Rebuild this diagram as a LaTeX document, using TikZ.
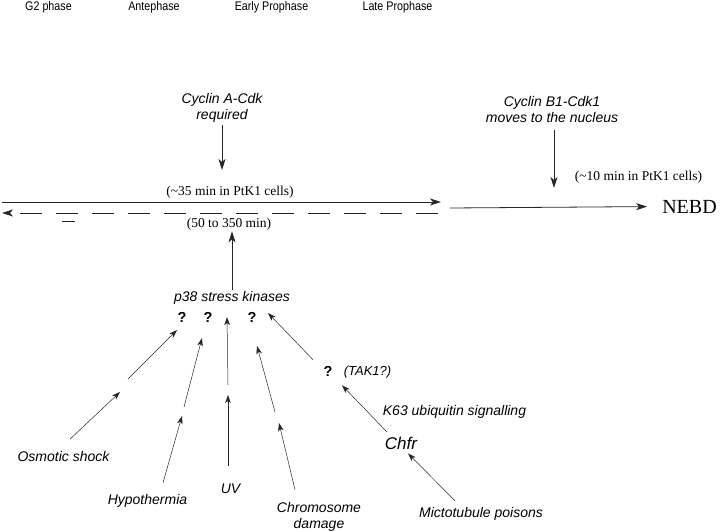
\documentclass[tikz,border=0pt]{standalone}
\usepackage{fontspec}
\setmainfont{Liberation Serif}
\setsansfont{Liberation Sans}
\newfontfamily\narrowsans[FakeStretch=0.86]{Liberation Sans}
\usepackage{tikz}
\usetikzlibrary{arrows, arrows.meta, positioning}
\tikzstyle{phase} = [font=\narrowsans\fontsize{12.5}{14}\selectfont, inner sep=1pt]
\tikzstyle{factor} = [font=\sffamily\itshape\fontsize{14}{16}\selectfont, align=center, inner sep=1pt]
\tikzstyle{timing} = [font=\fontsize{13.5}{16}\selectfont, inner sep=1pt]
\tikzstyle{unknown} = [font=\sffamily\bfseries\fontsize{14.5}{16}\selectfont, inner sep=1pt]
\tikzstyle{arrow} = [->, >={Stealth[length=11pt, width=7pt, inset=3pt]}, line width=0.8pt, draw=black!85]
\tikzstyle{thinarrow} = [->, >={Stealth[length=8pt, width=5.5pt, inset=2pt]}, line width=0.5pt, draw=black!85]

\begin{document}
\begin{tikzpicture}[x=1pt, y=-1pt]
  \useasboundingbox (0,0) rectangle (720,532);

  \node (g2) [phase] at (48.5,7.5) {G2 phase};
  \node (ante) [phase] at (154,7.5) {Antephase};
  \node (early) [phase] at (271.5,7.5) {Early Prophase};
  \node (late) [phase] at (397.5,7.5) {Late Prophase};

  \node (cyca) [factor] at (222,107.5) {Cyclin A-Cdk\\required};
  \node (cycb) [factor] at (552,109) {Cyclin B1-Cdk1\\moves to the nucleus};
  \node (min35) [timing] at (230,192) {(\textasciitilde35 min in PtK1 cells)};
  \node (min10) [timing] at (638.5,177.5) {(\textasciitilde10 min in PtK1 cells)};
  \node (min350) [timing] at (229,224) {(50 to 350 min)};
  \node (nebd) [timing, font=\fontsize{20}{24}\selectfont] at (689.5,206.5) {NEBD};

  \node (p38) [factor] at (232,298) {p38 stress kinases};
  \node (q1) [unknown] at (182,317) {?};
  \node (q2) [unknown] at (208,317) {?};
  \node (q3) [unknown] at (252,317) {?};
  \node (qtak) [unknown] at (328,371) {?};
  \node (tak) [factor, font=\sffamily\itshape\fontsize{13}{16}\selectfont] at (367.5,372) {(TAK1?)};
  \node (k63) [factor] at (454.5,412) {K63 ubiquitin signalling};
  \node (chfr) [factor, font=\sffamily\itshape\fontsize{17}{20}\selectfont] at (401,443.5) {Chfr};

  \node (osm) [factor] at (63.5,456.5) {Osmotic shock};
  \node (hypo) [factor] at (147.5,501) {Hypothermia};
  \node (uv) [factor] at (230.5,488.5) {UV};
  \node (chrom) [factor] at (319,516.5) {Chromosome\\damage};
  \node (micro) [factor] at (481,514) {Mictotubule poisons};

  % time lines
  \coordinate (fastL) at (2,202);
  \coordinate (fastR) at (441,202);
  \coordinate (slowR) at (438,213);
  \coordinate (slowL) at (2,213);
  \coordinate (lateL) at (450,208);
  \coordinate (cycatip) at (222,170);
  \coordinate (cycbtip) at (554,188);

  \draw[arrow] (fastL) -- (fastR);
  \draw[arrow, dash pattern=on 22pt off 14pt] (slowR) -- (slowL);
  \draw[line width=0.8pt, black!85] (62,221) -- (75,221);
  \draw[arrow, shorten >=14pt] (lateL) -- (nebd.west);
  \draw[arrow] ([yshift=-2pt]cyca.south) -- (cycatip);
  \draw[arrow] ([xshift=2pt, yshift=-7pt]cycb.south) -- (cycbtip);
  \draw[arrow] (p38.north) -- (p38.north |- min350.south);

  % stress inputs
  \coordinate (osm1) at (120,392);
  \coordinate (osm2) at (128,379);
  \coordinate (osm3) at (177,330);
  \coordinate (hypo1) at (182,416);
  \coordinate (hypo2) at (184,407);
  \coordinate (hypo3) at (202,338);
  \coordinate (uv1) at (228,395);
  \coordinate (uv2) at (228,385);
  \coordinate (uv3) at (227,317);
  \coordinate (chrom1) at (279,423);
  \coordinate (chrom2) at (275,412);
  \coordinate (chrom3) at (257,346);
  \coordinate (tak1) at (268,313);

  \draw[thinarrow] ([xshift=6.5pt, yshift=11pt]osm.north) -- (osm1);
  \draw[thinarrow] (osm2) -- (osm3);
  \draw[thinarrow] ([xshift=15.5pt, yshift=10.5pt]hypo.north) -- (hypo1);
  \draw[thinarrow] (hypo2) -- (hypo3);
  \draw[thinarrow] ([xshift=-2.5pt, yshift=16.5pt]uv.north) -- (uv1);
  \draw[thinarrow] (uv2) -- (uv3);
  \draw[thinarrow] ([xshift=-24pt, yshift=11pt]chrom.north) -- (chrom1);
  \draw[thinarrow] (chrom2) -- (chrom3);
  \draw[thinarrow] ([xshift=-15pt, yshift=5pt]qtak.north) -- (tak1);
  \draw[thinarrow] ([xshift=-14pt, yshift=4pt]chfr.north) -- ([xshift=14pt, yshift=-8pt]qtak.south);
  \draw[thinarrow] ([xshift=-26pt, yshift=5.5pt]micro.north) -- ([xshift=7pt, yshift=-2.5pt]chfr.south);
\end{tikzpicture}
\end{document}
